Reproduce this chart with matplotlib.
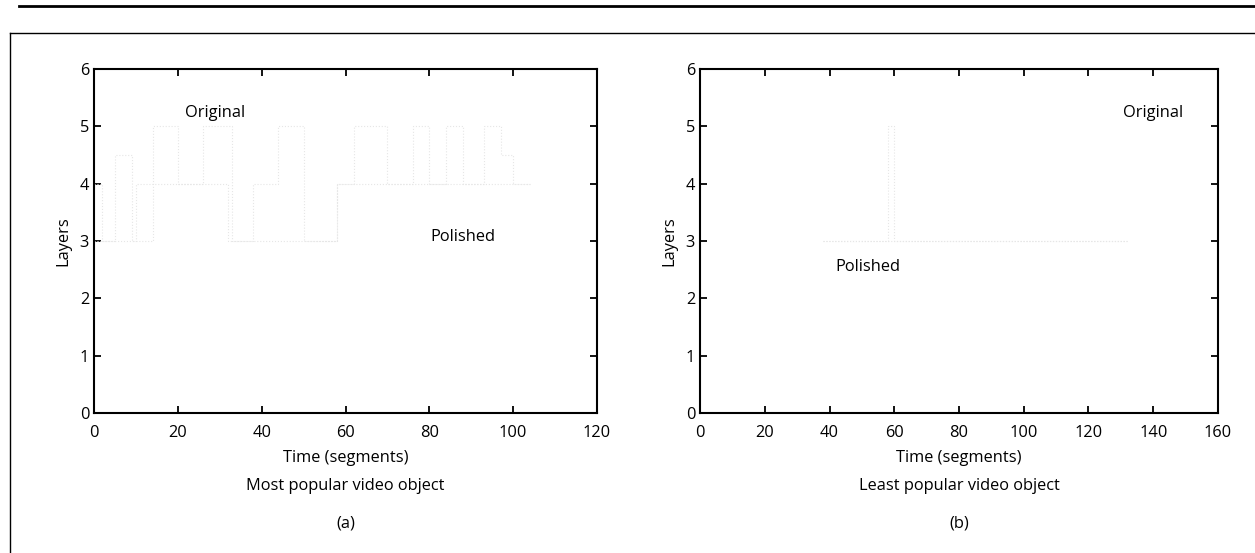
import matplotlib.pyplot as plt
from matplotlib.lines import Line2D

plt.rcParams['font.family'] = ['Open Sans', 'DejaVu Sans']

# (a) most popular video object: change points (segment) and layer levels
orig_a_x = [0, 2, 5, 9, 14, 20, 26, 31, 33, 38, 44, 50, 58, 62, 70, 76, 80, 84, 88, 93, 97, 100, 104]
orig_a_y = [4, 3, 4.5, 3, 5, 4, 5, 5, 3, 4, 5, 3, 4, 5, 4, 5, 4, 5, 4, 5, 4.5, 4, 4]
pol_a_x = [0, 10, 32, 50, 58, 76, 104]
pol_a_y = [3, 4, 3, 3, 4, 4, 4]

# (b) least popular video object
orig_b_x = [38, 58, 60, 132]
orig_b_y = [3, 5, 3, 3]
pol_b_x = [38, 132]
pol_b_y = [3, 3]

xmax = [120, 160]
captions = ['Most popular video object', 'Least popular video object']
panel = ['(a)', '(b)']
orig_pos = [(29, 5.23), (140, 5.23)]
pol_pos = [(88, 3.07), (52, 2.55)]

fs = 11.8

fig = plt.figure(figsize=(12.55, 5.53), dpi=100)
lefts = [0.0749, 0.5578]
widths = [0.4008, 0.4127]

data = [(orig_a_x, orig_a_y, pol_a_x, pol_a_y), (orig_b_x, orig_b_y, pol_b_x, pol_b_y)]

for i in range(2):
    ax = fig.add_axes([lefts[i], 0.2532, widths[i], 0.622])
    ox, oy, px, py = data[i]
    # the scanned curves are almost washed out, so keep them very faint
    ax.step(ox, oy, where='post', color='#e6e6e6', lw=0.8, ls=':')
    ax.step(px, py, where='post', color='#e6e6e6', lw=0.8, ls=':')
    ax.set_xlim(0, xmax[i])
    ax.set_ylim(0, 6)
    ax.set_xticks(range(0, xmax[i] + 1, 20))
    ax.set_yticks(range(0, 7))
    ax.tick_params(direction='in', top=True, right=True, labelsize=fs, length=5, width=1.3)
    ax.tick_params(axis='x', pad=9)
    for s in ax.spines.values():
        s.set_linewidth(1.5)
    ax.set_ylabel('Layers', fontsize=fs, labelpad=6)
    ax.set_xlabel('Time (segments)\n' + captions[i], fontsize=fs, linespacing=2.0, labelpad=6)
    ax.text(orig_pos[i][0], orig_pos[i][1], 'Original', ha='center', va='center', fontsize=fs)
    ax.text(pol_pos[i][0], pol_pos[i][1], 'Polished', ha='center', va='center', fontsize=fs)
    fig.text(lefts[i] + widths[i] / 2, 0.054, panel[i], ha='center', va='center', fontsize=fs)

# page frame lines from the scan
fig.add_artist(Line2D([0.015, 1.0], [0.989, 0.989], color='black', lw=2, transform=fig.transFigure))
fig.add_artist(Line2D([0.008, 1.0], [0.940, 0.940], color='black', lw=1, transform=fig.transFigure))
fig.add_artist(Line2D([0.008, 0.008], [0.0, 0.940], color='black', lw=1, transform=fig.transFigure))

fig.savefig('out.png', dpi=100)
